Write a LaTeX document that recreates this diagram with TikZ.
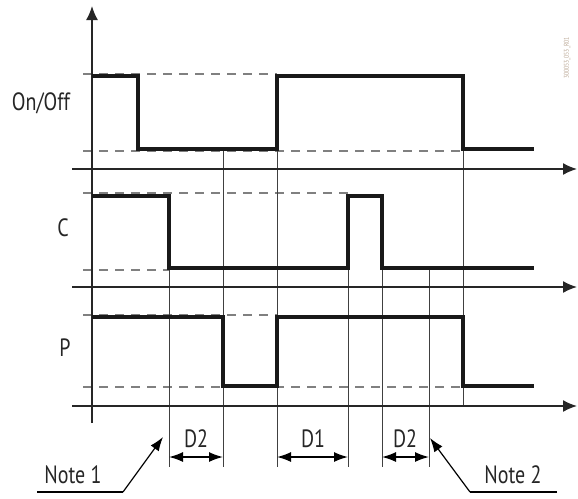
\documentclass[tikz,border=0pt]{standalone}
\usepackage{fontspec}
\setmainfont[FakeStretch=0.8]{PT Sans}
\usetikzlibrary{arrows.meta}
\tikzset{
  signal/.style={black!90,line width=4.5pt,line join=miter},
  level/.style={black!50,line width=1.6pt,dash pattern=on 9pt off 7pt},
  tickline/.style={black!75,line width=0.9pt},
  timeaxis/.style={black!85,line width=1.6pt,-{Latex[length=14pt,width=12pt]}},
  dimarrow/.style={line width=1.5pt,{Latex[length=14pt,width=10pt]}-{Latex[length=14pt,width=10pt]}},
  notearrow/.style={line width=1.2pt,-{Latex[length=14pt,width=10pt]}},
  lbl/.style={font=\fontsize{25}{25}\selectfont,text=black!85,inner sep=0pt}
}
\begin{document}
\begin{tikzpicture}[x=1pt,y=-1pt]
  \useasboundingbox (0,0) rectangle (578,498);
  % levels
  \draw[level] (83,74) -- (277,74);
  \draw[level] (83,151) -- (463,151);
  \draw[level] (83,193) -- (348,193);
  \draw[level] (83,270) -- (169,270);
  \draw[level] (83,315) -- (277,315);
  \draw[level] (83,387) -- (463,387);
  % time marks
  \draw[tickline] (169,268) -- (169,467);
  \draw[tickline] (223,151) -- (223,467);
  \draw[tickline] (277,149) -- (277,467);
  \draw[tickline] (348,268) -- (348,467);
  \draw[tickline] (382,268) -- (382,467);
  \draw[tickline] (429,270) -- (429,467);
  \draw[tickline] (463,149) -- (463,406);
  % axes
  \draw[timeaxis] (92,423) -- (92,6);
  \draw[timeaxis] (72,169) -- (577,169);
  \draw[timeaxis] (72,287) -- (577,287);
  \draw[timeaxis] (72,406) -- (577,406);
  % signals
  \draw[signal] (92,76) -- (138,76) -- (138,149) -- (277,149) -- (277,76) -- (463,76) -- (463,149) -- (534,149);
  \draw[signal] (92,196) -- (169,196) -- (169,268) -- (348,268) -- (348,196) -- (382,196) -- (382,268) -- (534,268);
  \draw[signal] (92,317) -- (223,317) -- (223,386) -- (277,386) -- (277,317) -- (463,317) -- (463,386) -- (534,386);
  % labels
  \node[lbl] (onoff) at (41,103) {On/Off};
  \node[lbl] (clbl) at (63,228) {C};
  \node[lbl] (plbl) at (65,348) {P};
  \node[lbl,font=\fontsize{7}{7}\selectfont,text=brown!60!black!50,rotate=90] (figid) at (567,58) {300053\_053\_R01};
  % delays
  \coordinate (d2a) at (169,457);
  \coordinate (d2b) at (223,457);
  \coordinate (d1a) at (277,457);
  \coordinate (d1b) at (348,457);
  \coordinate (d3a) at (382,457);
  \coordinate (d3b) at (429,457);
  \draw[dimarrow] (d2a) -- (d2b);
  \draw[dimarrow] (d1a) -- (d1b);
  \draw[dimarrow] (d3a) -- (d3b);
  \node[lbl] (dtwo) at (196,439) {D2};
  \node[lbl] (done) at (313,439) {D1};
  \node[lbl] (dthree) at (405,439) {D2};
  % notes
  \node[lbl] (note1) at (73,475) {Note 1};
  \node[lbl] (note2) at (513,475) {Note 2};
  \coordinate (n1a) at (37,492);
  \coordinate (n1b) at (123,492);
  \coordinate (n1tip) at (163,437);
  \coordinate (n2a) at (557,492);
  \coordinate (n2b) at (470,492);
  \coordinate (n2tip) at (430,438);
  \draw[line width=1.2pt] (n1a) -- (n1b);
  \draw[notearrow] (n1b) -- (n1tip);
  \draw[line width=1.2pt] (n2a) -- (n2b);
  \draw[notearrow] (n2b) -- (n2tip);
\end{tikzpicture}
\end{document}
